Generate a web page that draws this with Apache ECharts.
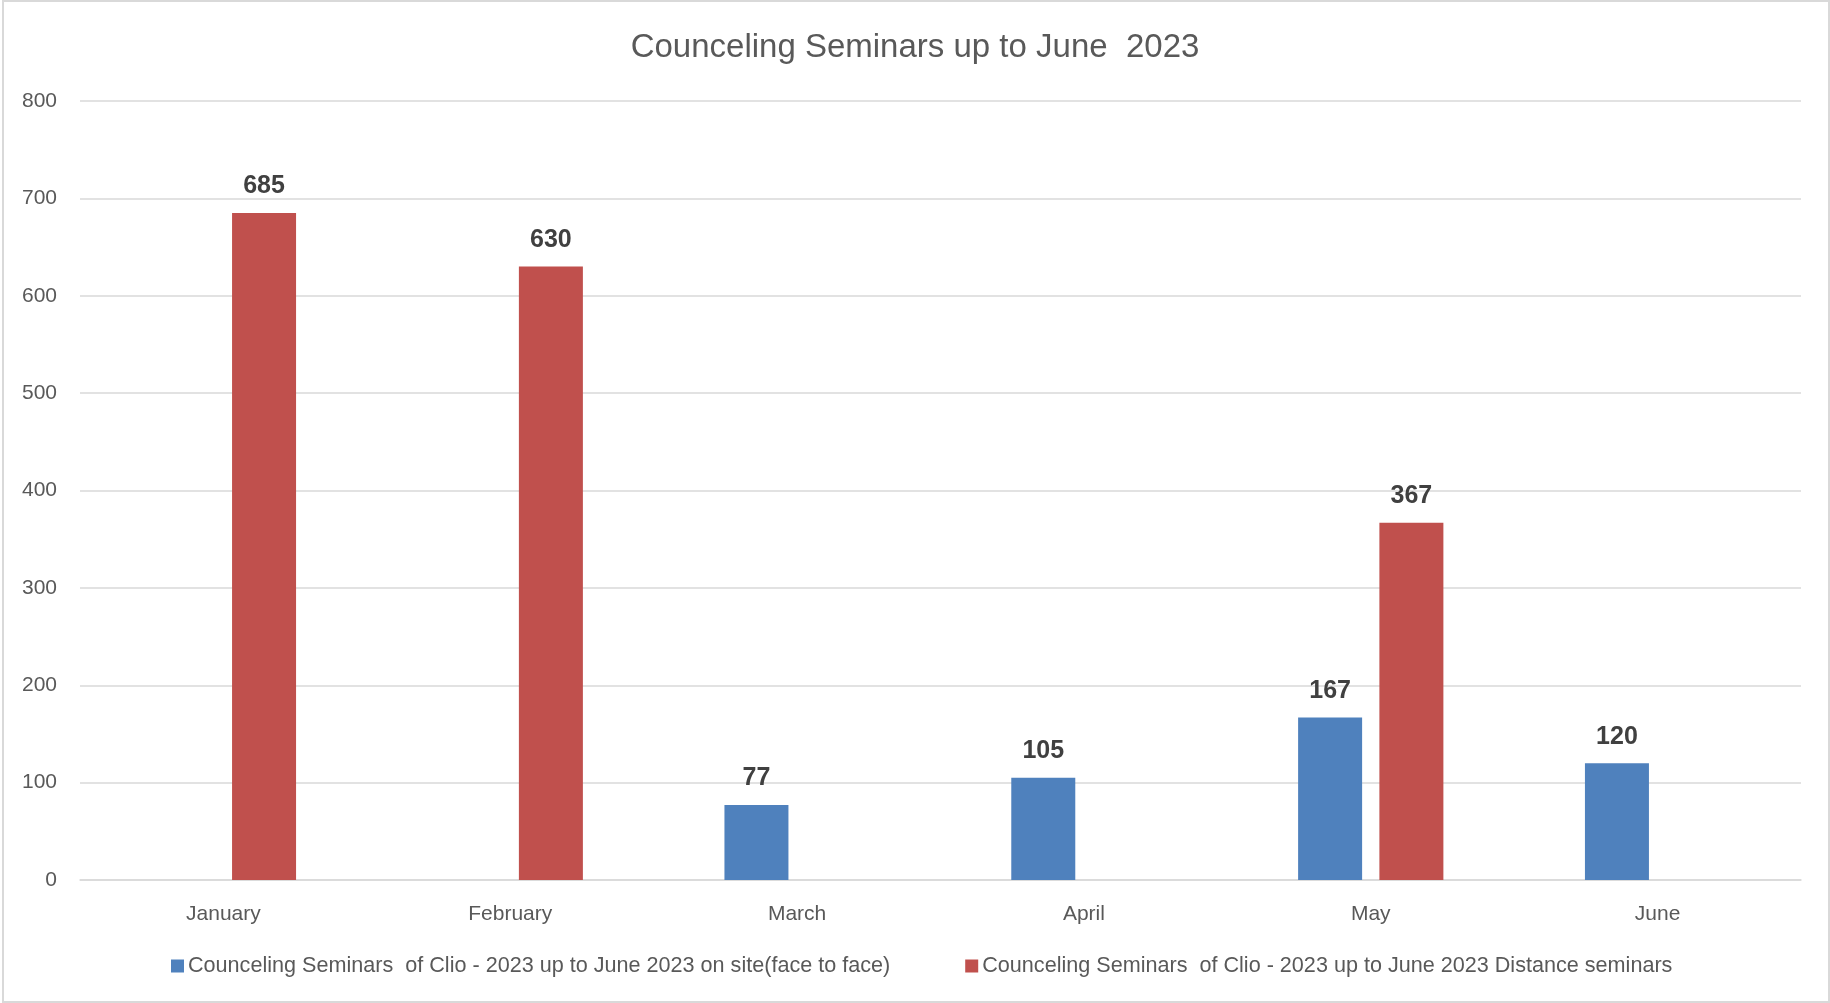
<!DOCTYPE html>
<html>
<head>
<meta charset="utf-8">
<script src="https://cdn.jsdelivr.net/npm/echarts@6/dist/echarts.min.js"></script>
<style>
html,body{margin:0;padding:0;background:#fff;}
#chart{width:1830px;height:1003px;}
</style>
</head>
<body>
<div id="chart"></div>
<script>
const titleText = 'Counceling Seminars up to June  2023';
const categories = ['January', 'February', 'March', 'April', 'May', 'June'];
const onSiteName = 'Counceling Seminars  of Clio - 2023 up to June 2023 on site(face to face)';
const distanceName = 'Counceling Seminars  of Clio - 2023 up to June 2023 Distance seminars';
const onSiteValues = [null, null, 77, 105, 167, 120];
const distanceValues = [685, 630, null, null, 367, null];
const yTicks = { min: 0, max: 800, interval: 100 };

const FONT = '"Liberation Sans", Arial, sans-serif';
const chart = echarts.init(document.getElementById('chart'), null, { renderer: 'canvas' });

const labelStyle = {
  show: true,
  position: 'top',
  distance: 14,
  fontFamily: FONT,
  fontSize: 25,
  fontWeight: 'bold',
  color: '#404040'
};

chart.setOption({
  backgroundColor: '#ffffff',
  animation: false,
  title: {
    text: titleText,
    left: 'center',
    top: 26,
    textStyle: { fontFamily: FONT, fontSize: 33, fontWeight: 'normal', color: '#595959' }
  },
  graphic: [{
    type: 'rect',
    shape: { x: 3, y: 1, width: 1826, height: 1001 },
    style: { fill: 'none', stroke: '#d9d9d9', lineWidth: 2 },
    silent: true
  }],
  legend: {
    data: [onSiteName, distanceName],
    left: 166,
    top: 950,
    itemWidth: 13,
    itemHeight: 13,
    itemGap: 75,
    icon: 'rect',
    textStyle: { fontFamily: FONT, fontSize: 21.6, color: '#595959', padding: [0, 0, 0, -1] }
  },
  grid: { left: 80, right: 29, top: 101, bottom: 123, containLabel: false },
  xAxis: {
    type: 'category',
    data: categories,
    axisLine: { show: true, lineStyle: { color: '#d9d9d9', width: 1.5 } },
    axisTick: { show: false },
    axisLabel: { fontFamily: FONT, fontSize: 21, color: '#595959', margin: 24 }
  },
  yAxis: {
    type: 'value',
    min: yTicks.min,
    max: yTicks.max,
    interval: yTicks.interval,
    axisLine: { show: false },
    axisTick: { show: false },
    splitLine: { lineStyle: { color: '#d9d9d9', width: 1.5 } },
    axisLabel: { fontFamily: FONT, fontSize: 21, color: '#595959', margin: 23 }
  },
  series: [
    {
      name: onSiteName,
      type: 'bar',
      data: onSiteValues,
      barWidth: 64,
      barGap: '27%',
      itemStyle: { color: '#4f81bd' },
      label: labelStyle
    },
    {
      name: distanceName,
      type: 'bar',
      data: distanceValues,
      barWidth: 64,
      barGap: '27%',
      itemStyle: { color: '#c0504d' },
      label: labelStyle
    }
  ]
});
</script>
</body>
</html>
